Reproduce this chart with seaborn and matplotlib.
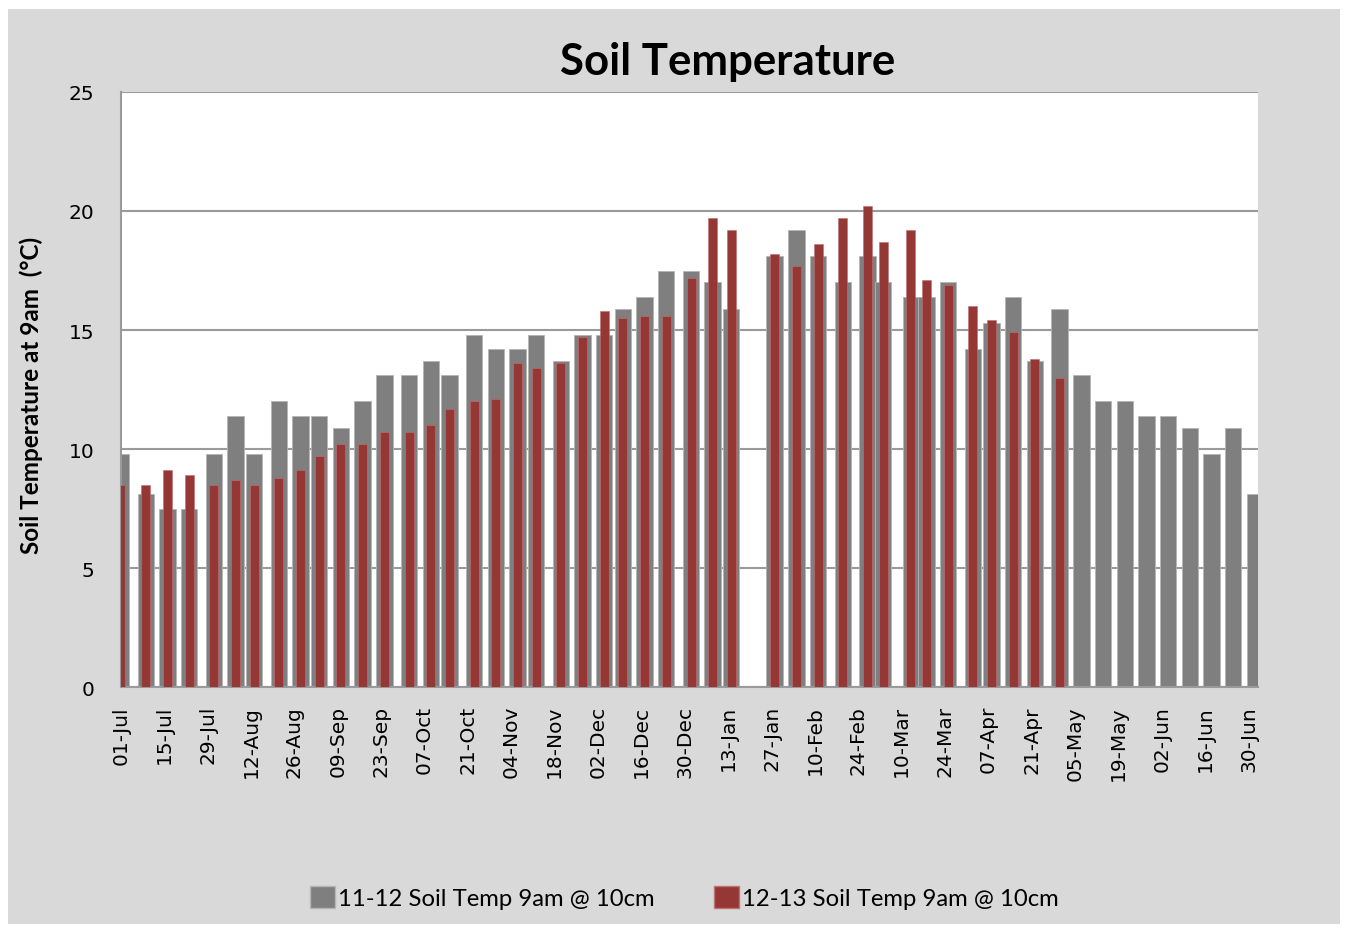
import numpy as np
import pandas as pd
import matplotlib.pyplot as plt
import seaborn as sns
from matplotlib.patches import Patch, Rectangle

# measurement days, counted from 01-Jul
days = [0, 8, 15, 22, 30, 37, 43, 51, 58, 64, 71, 78, 85, 93, 100, 106,
        114, 121, 128, 134, 142, 149, 156, 162, 169, 176, 184, 191, 197,
        211, 218, 225, 233, 241, 246, 255, 260, 267, 275, 281, 288, 295,
        303, 310, 317, 324, 331, 338, 345, 352, 359, 366]

# 11-12 season (grey)
temp_1112 = [9.8, 8.1, 7.5, 7.5, 9.8, 11.4, 9.8, 12.0, 11.4, 11.4, 10.9,
             12.0, 13.1, 13.1, 13.7, 13.1, 14.8, 14.2, 14.2, 14.8, 13.7,
             14.8, 14.8, 15.9, 16.4, 17.5, 17.5, 17.0, 15.9, 18.1, 19.2,
             18.1, 17.0, 18.1, 17.0, 16.4, 16.4, 17.0, 14.2, 15.3, 16.4,
             13.7, 15.9, 13.1, 12.0, 12.0, 11.4, 11.4, 10.9, 9.8, 10.9, 8.1]

# 12-13 season (red), only up to late April
temp_1213 = [8.5, 8.5, 9.1, 8.9, 8.5, 8.7, 8.5, 8.8, 9.1, 9.7, 10.2, 10.2,
             10.7, 10.7, 11.0, 11.7, 12.0, 12.1, 13.6, 13.4, 13.6, 14.7,
             15.8, 15.5, 15.6, 15.6, 17.2, 19.7, 19.2, 18.2, 17.7, 18.6,
             19.7, 20.2, 18.7, 19.2, 17.1, 16.9, 16.0, 15.4, 14.9, 13.8, 13.0]

tick_days = list(range(0, 365, 14))
tick_labels = ['01-Jul', '15-Jul', '29-Jul', '12-Aug', '26-Aug', '09-Sep',
               '23-Sep', '07-Oct', '21-Oct', '04-Nov', '18-Nov', '02-Dec',
               '16-Dec', '30-Dec', '13-Jan', '27-Jan', '10-Feb', '24-Feb',
               '10-Mar', '24-Mar', '07-Apr', '21-Apr', '05-May', '19-May',
               '02-Jun', '16-Jun', '30-Jun']

grey = '#7f7f7f'
red = '#953735'
line_col = '#9a9a9a'

sns.set_style('white')
plt.rcParams['font.family'] = ['DejaVu Sans']
plt.rcParams['text.color'] = 'black'

fig = plt.figure(figsize=(13.47, 9.29), dpi=100)
fig.patch.set_facecolor('white')
fig.patches.append(Rectangle((0.006, 0.004), 0.989, 0.985,
                             transform=fig.transFigure, facecolor='#d9d9d9',
                             edgecolor='none', zorder=-10))

ax = fig.add_axes([0.0898, 0.2594, 0.8441, 0.6405])
ax.set_facecolor('white')

df_a = pd.DataFrame({'day': days, 'temp': temp_1112})
df_b = pd.DataFrame({'day': days[:len(temp_1213)], 'temp': temp_1213})
min_gap = np.diff(days).min()

sns.barplot(data=df_a, x='day', y='temp', native_scale=True, color=grey,
            saturation=1, width=5.3 / min_gap, errorbar=None,
            edgecolor='#b5b5b5', linewidth=0.6, ax=ax, zorder=2)
sns.barplot(data=df_b, x='day', y='temp', native_scale=True, color=red,
            saturation=1, width=2.9 / min_gap, errorbar=None,
            edgecolor='#c07070', linewidth=0.4, ax=ax, zorder=3)

ax.set_xlim(0, 367)
ax.set_ylim(0, 25)
ax.set_yticks([0, 5, 10, 15, 20, 25])
ax.set_xticks(tick_days)
ax.set_xticklabels(tick_labels, rotation=90)
ax.set_xlabel('')
ax.set_ylabel('')

ax.yaxis.grid(True, color=line_col, linewidth=1.5)
ax.xaxis.grid(False)
ax.set_axisbelow(True)
for side in ['top', 'right']:
    ax.spines[side].set_visible(False)
for side in ['left', 'bottom']:
    ax.spines[side].set_color(line_col)
    ax.spines[side].set_linewidth(1.5)
ax.tick_params(axis='both', direction='out', length=7, width=1.5,
               color=line_col, labelsize=14.5, labelcolor='black')
ax.tick_params(axis='y', pad=12)
ax.tick_params(axis='x', pad=6)

fig.text(0.540, 0.933, 'Soil Temperature', ha='center', va='center',
         fontsize=31.5, fontweight='bold', color='black',
         family=['Lato', 'DejaVu Sans'])
fig.text(0.023, 0.574, 'Soil Temperature at 9am  (°C)', ha='center',
         va='center', rotation=90, fontsize=17.5, fontweight='bold',
         color='black', family=['Lato', 'DejaVu Sans'])

handles = [Patch(facecolor=grey, edgecolor='#b5b5b5',
                 label='11-12 Soil Temp 9am @ 10cm'),
           Patch(facecolor=red, edgecolor='#c07070',
                 label='12-13 Soil Temp 9am @ 10cm')]
leg = fig.legend(handles=handles, loc='center', bbox_to_anchor=(0.508, 0.033),
                 ncol=2, frameon=False, handlelength=1.05, handleheight=1.05,
                 handletextpad=0.1, columnspacing=2.5,
                 prop={'family': ['Lato', 'DejaVu Sans'], 'size': 17.2})
for t in leg.get_texts():
    t.set_color('black')

fig.savefig('out.png', dpi=100)
